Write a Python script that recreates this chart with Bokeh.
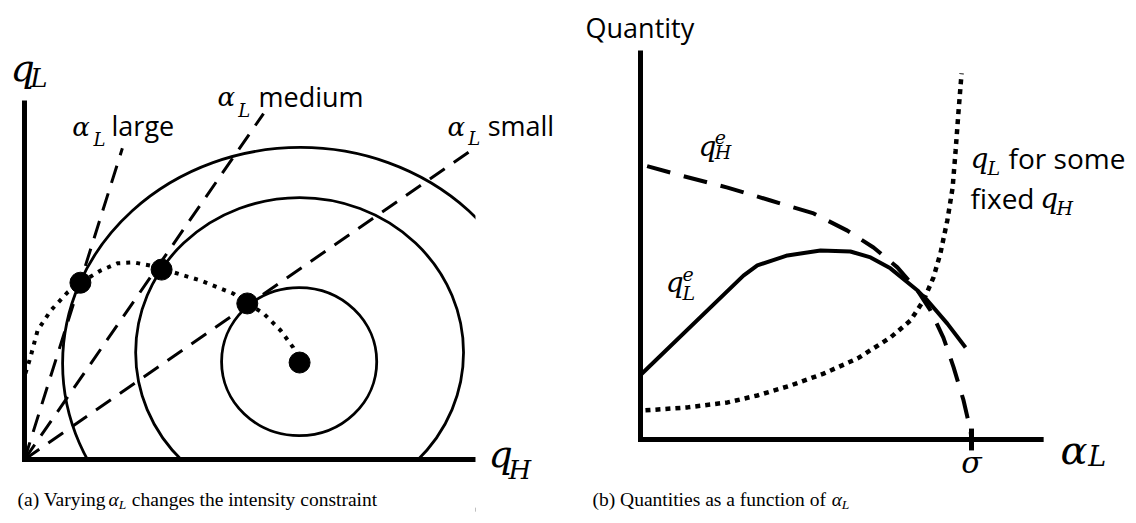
from bokeh.embed import file_html
from bokeh.layouts import row
from bokeh.models import Label, Range1d
from bokeh.plotting import figure
from bokeh.resources import INLINE

# ---------------- panel (a): constraint circles in the (q_H, q_L) plane ----------------
QH_MAX, QL_MAX = 10.0, 7.96

# concentric iso-curves (small, medium, large)
ring_cx = [6.09, 6.10, 6.12]
ring_cy = [2.17, 2.37, 2.13]
ring_w = [3.44, 7.27, 10.55]
ring_h = [3.28, 6.87, 9.58]

# rays from the origin for alpha_L large / medium / small
ray_x = [2.17, 5.30, 10.0]
ray_y = [6.90, 7.67, 6.92]

# tangency points and the unconstrained optimum
opt_x = [1.24, 3.04, 4.94, 6.10]
opt_y = [3.92, 4.21, 3.46, 2.15]

# path traced by the constrained optimum
path_x = [0.02, 0.13, 0.29, 0.58, 0.95, 1.24, 1.69, 2.06, 2.42, 2.79, 3.04,
          3.30, 3.90, 4.63, 4.94, 5.30, 5.68, 5.96, 6.10]
path_y = [1.91, 2.26, 2.86, 3.30, 3.70, 3.92, 4.19, 4.35, 4.37, 4.30, 4.21,
          4.15, 3.97, 3.68, 3.46, 3.24, 2.86, 2.48, 2.15]

# ---------------- panel (b): quantities against alpha_L ----------------
ALPHA_MAX, QTY_MAX = 12.18, 11.75
SIGMA = 10.0

qh_alpha = [0.20, 1.21, 2.63, 3.93, 5.23, 6.25, 7.04, 7.76, 8.37, 8.76, 9.15,
            9.46, 9.76, 9.97, 10.0]
qh_e = [8.26, 7.98, 7.61, 7.22, 6.83, 6.31, 5.80, 5.20, 4.50, 3.90, 3.08,
        2.18, 1.18, 0.27, 0.0]

ql_alpha = [0.0, 3.11, 3.53, 4.44, 5.44, 6.34, 6.95, 7.55, 8.37, 8.67, 9.27, 9.82]
ql_e = [1.95, 4.95, 5.26, 5.56, 5.71, 5.68, 5.50, 5.17, 4.50, 4.20, 3.50, 2.78]

fixed_alpha = [0.15, 1.42, 2.63, 3.53, 4.53, 5.53, 6.56, 7.55, 8.16, 8.55, 8.85,
               9.06, 9.27, 9.43, 9.52, 9.61, 9.70]
fixed_ql = [0.88, 0.97, 1.12, 1.33, 1.63, 1.99, 2.45, 3.08, 3.60, 4.20, 4.89,
            5.62, 6.62, 7.61, 8.73, 9.94, 11.06]

SANS = "Open Sans"
MATH = "DejaVu Serif"
CAPTION = "Liberation Serif"
CAP_SIZE = 19.5
AXIS_W = 5


def make_panel(width, height, x_range, y_range):
    p = figure(width=width, height=height,
               x_range=Range1d(*x_range), y_range=Range1d(*y_range),
               x_axis_type=None, y_axis_type=None,
               output_backend="svg", toolbar_location=None, min_border=0)
    p.grid.visible = False
    p.outline_line_color = None
    p.background_fill_color = "white"
    p.border_fill_color = "white"
    return p


def draw_axes(p, xmax, ymax, pad):
    # an L-shaped pair of axis lines meeting at the origin
    p.segment(x0=[-pad, 0], y0=[0, -pad], x1=[xmax, 0], y1=[0, ymax],
              line_color="black", line_width=AXIS_W)


def text(p, x, y, s, font, size, style="normal", align="left"):
    # y is the baseline; the offset lifts the label box onto it
    p.add_layout(Label(x=x, y=y, text=s, text_font=font,
                       text_font_size=f"{size}px", text_font_style=style,
                       text_color="black", text_align=align,
                       text_baseline="alphabetic", y_offset=round(0.36 * size)))


def math(p, x, y, s, size, align="left", font=MATH):
    text(p, x, y, s, font, size, "italic", align)


# ---- panel (a) ----
pa = make_panel(560, 523, (-0.532, 11.885), (-1.419, 10.177))

pa.ellipse(x=ring_cx, y=ring_cy, width=ring_w, height=ring_h,
           fill_color=None, line_color="black", line_width=2.8)
# the curves stop at the q_H axis and at the right end of the drawing
pa.quad(left=[-0.6, QH_MAX], right=[QH_MAX, 12.0], bottom=[-1.5, -1.5],
        top=[0.0, 5.7], fill_color="white", line_color=None)
pa.segment(x0=[0, 0, 0], y0=[0, 0, 0], x1=ray_x, y1=ray_y,
           line_color="black", line_width=3, line_dash="18 11")
pa.line(path_x, path_y, line_color="black", line_width=4, line_dash="4 6")
pa.scatter(opt_x, opt_y, size=21, marker="circle",
           fill_color="black", line_color="black")
draw_axes(pa, QH_MAX, QL_MAX, 0.055)

math(pa, -0.31, 8.36, "q", 38)
math(pa, 0.13, 8.25, "L", 26)
math(pa, 10.29, -0.18, "q", 38)
math(pa, 10.73, -0.44, "H", 26)

math(pa, 1.06, 7.18, "α", 26)
math(pa, 1.53, 6.96, "L", 18)
text(pa, 1.93, 7.18, "large", SANS, 27)
math(pa, 4.28, 7.83, "α", 26)
math(pa, 4.74, 7.61, "L", 18)
text(pa, 5.19, 7.83, "medium", SANS, 27)
math(pa, 9.38, 7.18, "α", 26)
math(pa, 9.84, 6.98, "L", 18)
text(pa, 10.27, 7.18, "small", SANS, 27)

text(pa, -0.155, -1.04, "(a) Varying", CAPTION, CAP_SIZE)
math(pa, 1.86, -1.04, "α", CAP_SIZE, font=CAPTION)
math(pa, 2.09, -1.11, "L", 13.5, font=CAPTION)
text(pa, 2.38, -1.04, "changes the intensity constraint", CAPTION, CAP_SIZE)

# ---- panel (b) ----
pb = make_panel(576, 523, (-2.417, 14.985), (-2.538, 13.263))

pb.line(qh_alpha, qh_e, line_color="black", line_width=4, line_dash="24 14")
pb.line(ql_alpha, ql_e, line_color="black", line_width=4)
pb.line(fixed_alpha, fixed_ql, line_color="black", line_width=4.5, line_dash="5 5")
draw_axes(pb, ALPHA_MAX, QTY_MAX, 0.075)
# sigma marked on the alpha_L axis
pb.segment(x0=[SIGMA], y0=[-0.33], x1=[SIGMA], y1=[0.33],
           line_color="black", line_width=AXIS_W)
math(pb, SIGMA, -1.03, "σ", 30, align="center")

text(pb, -1.66, 12.15, "Quantity", SANS, 27)

math(pb, 1.75, 8.55, "q", 28)
math(pb, 2.24, 8.94, "e", 19)
math(pb, 2.24, 8.46, "H", 19)

math(pb, 0.76, 4.44, "q", 28)
math(pb, 1.27, 4.80, "e", 19)
math(pb, 1.27, 4.20, "L", 19)

math(pb, 9.97, 8.19, "q", 28)
math(pb, 10.48, 7.98, "L", 19)
text(pb, 11.12, 8.19, "for some", SANS, 28)
text(pb, 9.97, 6.98, "fixed", SANS, 28)
math(pb, 12.08, 6.98, "q", 28)
math(pb, 12.57, 6.77, "H", 19)

math(pb, 12.69, -0.73, "α", 40)
math(pb, 13.53, -0.82, "L", 27)

text(pb, -1.45, -2.02, "(b) Quantities as a function of", CAPTION, CAP_SIZE)
math(pb, 5.78, -2.02, "α", CAP_SIZE, font=CAPTION)
math(pb, 6.08, -2.11, "L", 13.5, font=CAPTION)

layout = row(pa, pb)
open("out.html", "w").write(file_html(layout, INLINE))
